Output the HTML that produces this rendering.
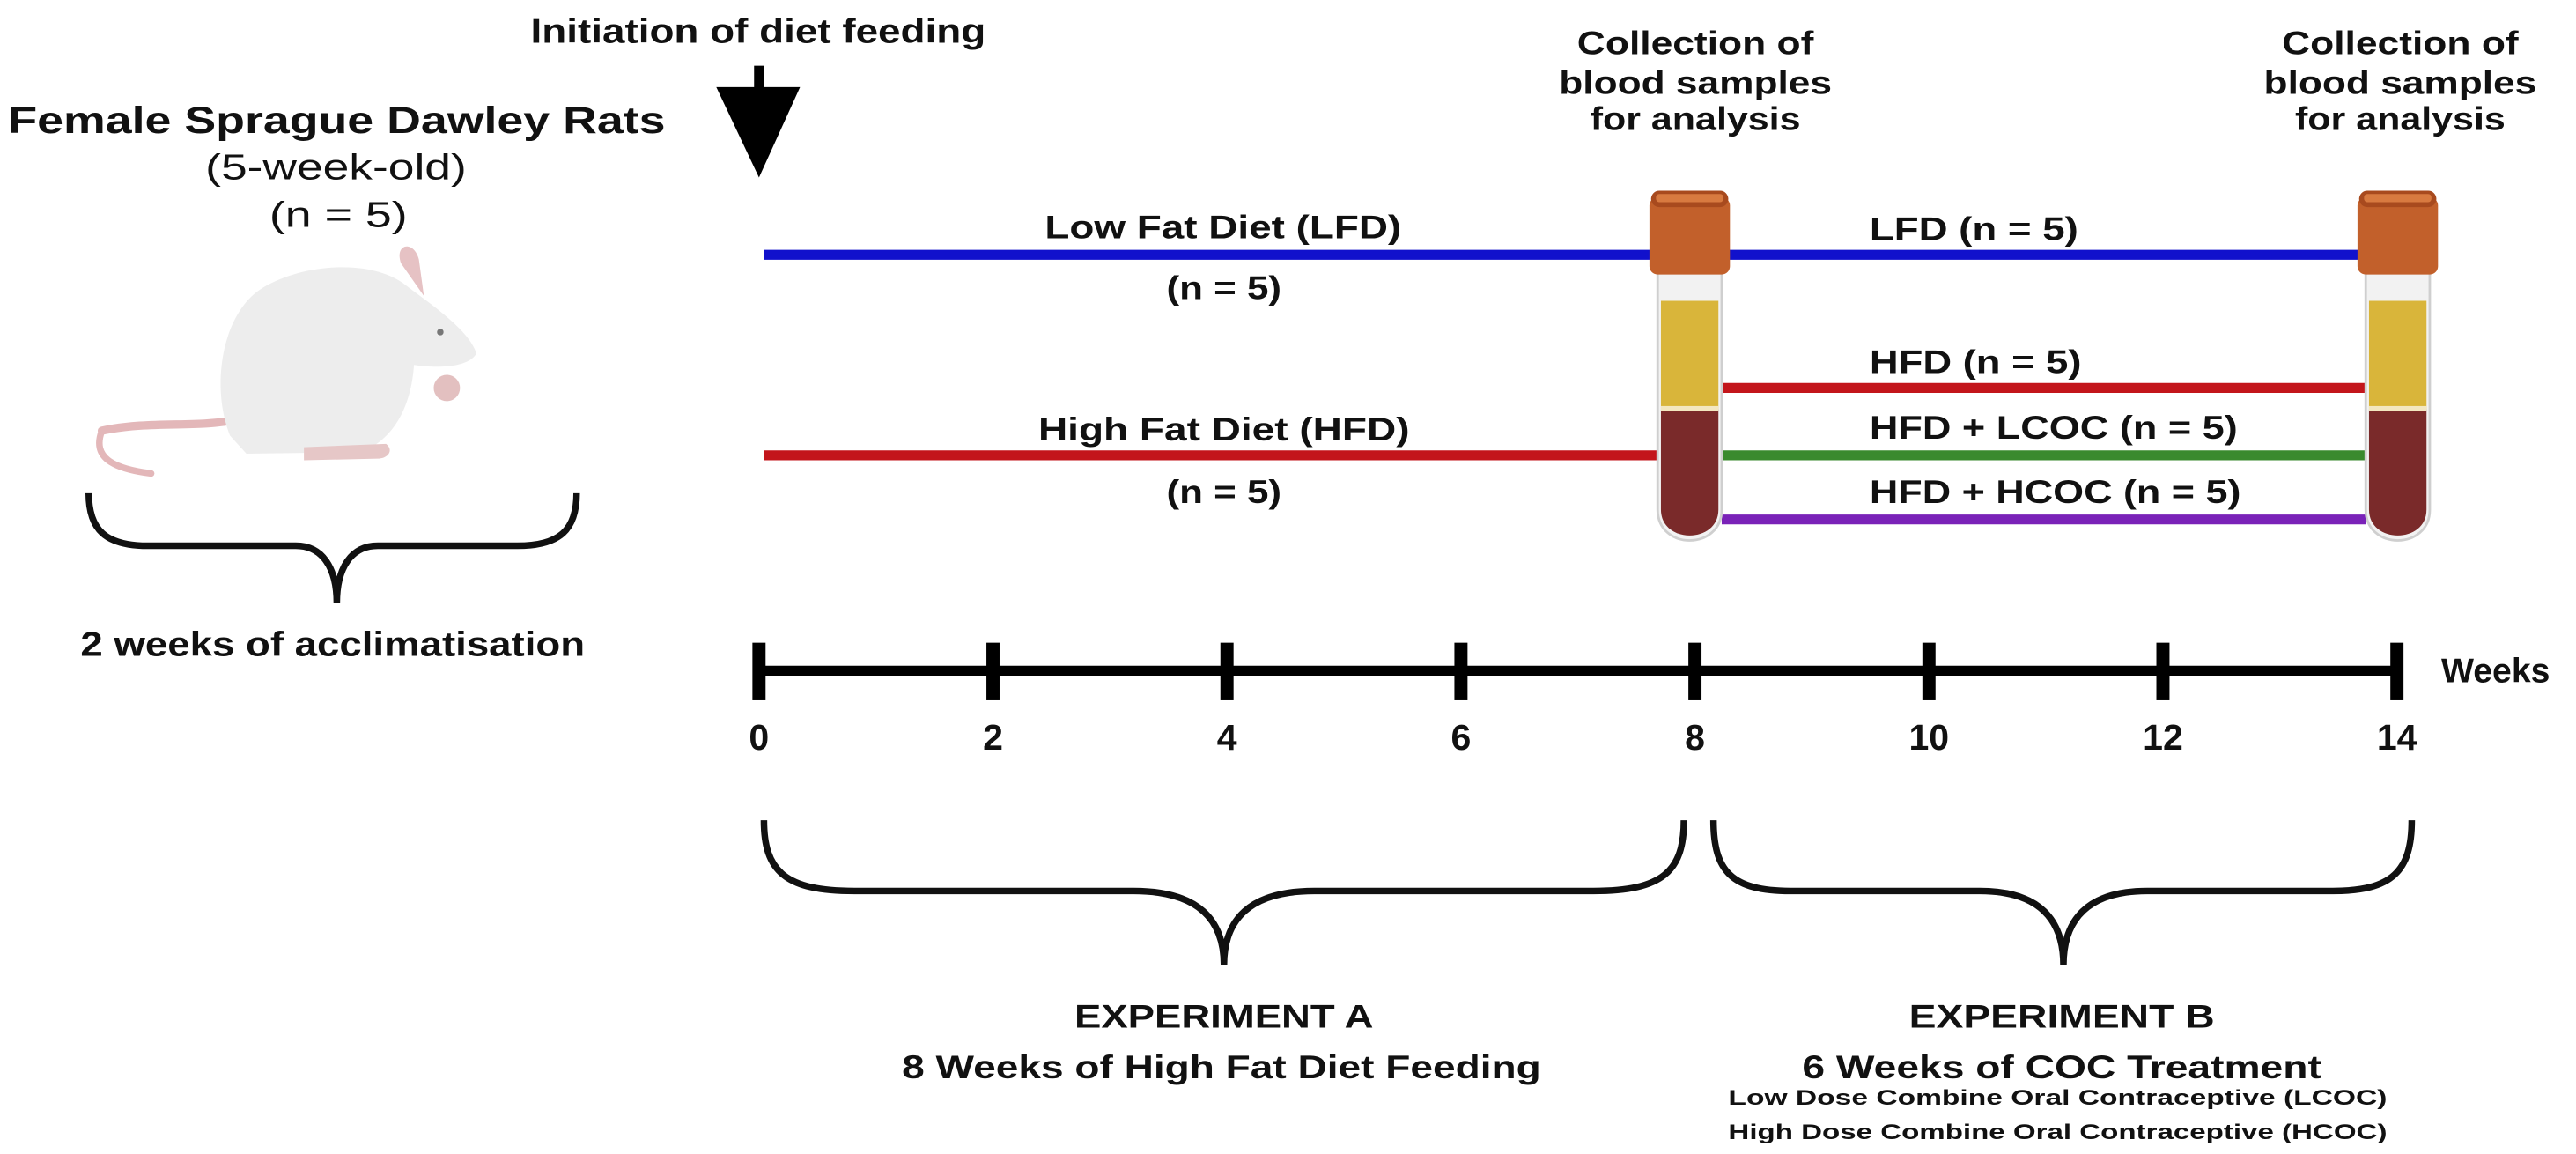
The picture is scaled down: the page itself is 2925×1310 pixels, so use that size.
<!DOCTYPE html>
<html><head><meta charset="utf-8"><style>
html,body{margin:0;padding:0;background:#fff;}
svg{display:block;}
text{font-family:"Liberation Sans",sans-serif;fill:#111;}
.b{font-weight:bold;}
</style></head><body>
<svg id="fig" width="2925" height="1310" viewBox="0 0 1568 702" preserveAspectRatio="none" xmlns="http://www.w3.org/2000/svg">
<rect width="1568" height="702" fill="#fff"/>
<!-- left block -->
<text class="b" x="5" y="81" font-size="23" textLength="400" lengthAdjust="spacingAndGlyphs">Female Sprague Dawley Rats</text>
<text x="125" y="109" font-size="22" textLength="159" lengthAdjust="spacingAndGlyphs">(5-week-old)</text>
<text x="164" y="138" font-size="22" textLength="84" lengthAdjust="spacingAndGlyphs">(n = 5)</text>
<g>
  <path d="M62,262 C56,278 68,285 92,288" stroke="#e3b7b9" stroke-width="4" fill="none" stroke-linecap="round"/>
  <path d="M62,262 C90,256 118,260 140,256" stroke="#e3b7b9" stroke-width="5" fill="none" stroke-linecap="round"/>
  <path d="M140,265 C128,235 135,190 160,175 C185,160 225,158 245,172 C262,185 285,200 290,215 C285,224 265,224 252,222 C250,250 238,268 220,275 L150,276 Z" fill="#ededed"/>
  <path d="M244,160 C240,148 252,146 255,158 L258,180 Z" fill="#e6c2c4"/>
  <circle cx="268" cy="202" r="2" fill="#777"/>
  <ellipse cx="272" cy="236" rx="8" ry="8" fill="#e3c0c0"/>
  <path d="M185,272 L235,270 C240,274 236,279 230,279 L185,280 Z" fill="#e6c7c7"/>
</g>
<path d="M54,300 C54,322 64,332 90,332 L180,332 C196,332 205,345 205,367 C205,345 214,332 230,332 L315,332 C341,332 351,322 351,300" stroke="#111" stroke-width="4" fill="none"/>
<text class="b" x="49" y="399" font-size="21" textLength="307" lengthAdjust="spacingAndGlyphs">2 weeks of acclimatisation</text>

<!-- initiation -->
<text class="b" x="323" y="26" font-size="21" textLength="277" lengthAdjust="spacingAndGlyphs">Initiation of diet feeding</text>
<rect x="459" y="40" width="6" height="20" fill="#000"/>
<polygon points="436,53 487,53 462,108" fill="#000"/>

<!-- collection labels -->
<g font-size="20">
<text class="b" x="960" y="33" textLength="144" lengthAdjust="spacingAndGlyphs">Collection of</text>
<text class="b" x="949" y="57" textLength="166" lengthAdjust="spacingAndGlyphs">blood samples</text>
<text class="b" x="968" y="79" textLength="128" lengthAdjust="spacingAndGlyphs">for analysis</text>
</g>
<g font-size="20">
<text class="b" x="1389" y="33" textLength="144" lengthAdjust="spacingAndGlyphs">Collection of</text>
<text class="b" x="1378" y="57" textLength="166" lengthAdjust="spacingAndGlyphs">blood samples</text>
<text class="b" x="1397" y="79" textLength="128" lengthAdjust="spacingAndGlyphs">for analysis</text>
</g>

<!-- diet lines -->
<line x1="465" y1="155" x2="1010" y2="155" stroke="#1111cc" stroke-width="6"/>
<line x1="465" y1="277" x2="1010" y2="277" stroke="#c3151b" stroke-width="6"/>
<line x1="1048" y1="155" x2="1440" y2="155" stroke="#1111cc" stroke-width="6"/>
<line x1="1048" y1="236" x2="1440" y2="236" stroke="#c3151b" stroke-width="6"/>
<line x1="1048" y1="277" x2="1440" y2="277" stroke="#3a8a2e" stroke-width="6"/>
<line x1="1048" y1="316" x2="1440" y2="316" stroke="#7a22b8" stroke-width="6"/>

<text class="b" x="636" y="145" font-size="20" textLength="217" lengthAdjust="spacingAndGlyphs">Low Fat Diet (LFD)</text>
<text class="b" x="710" y="182" font-size="20" textLength="70" lengthAdjust="spacingAndGlyphs">(n = 5)</text>
<text class="b" x="632" y="268" font-size="20" textLength="226" lengthAdjust="spacingAndGlyphs">High Fat Diet (HFD)</text>
<text class="b" x="710" y="306" font-size="20" textLength="70" lengthAdjust="spacingAndGlyphs">(n = 5)</text>
<text class="b" x="1138" y="146" font-size="20" textLength="127" lengthAdjust="spacingAndGlyphs">LFD (n = 5)</text>
<text class="b" x="1138" y="227" font-size="20" textLength="129" lengthAdjust="spacingAndGlyphs">HFD (n = 5)</text>
<text class="b" x="1138" y="267" font-size="20" textLength="224" lengthAdjust="spacingAndGlyphs">HFD + LCOC (n = 5)</text>
<text class="b" x="1138" y="306" font-size="20" textLength="226" lengthAdjust="spacingAndGlyphs">HFD + HCOC (n = 5)</text>

<!-- tubes -->
<g transform="translate(1004,0)">
  <path d="M5,165 L44,165 L44,310 C44,335 5,335 5,310 Z" fill="#f2f2f2" stroke="#cfcfcf" stroke-width="1.5"/>
  <rect x="7" y="183" width="35" height="66" fill="#d9b53a"/>
  <path d="M7,249 L42,249 L42,310 C42,331 7,331 7,310 Z" fill="#7a2a2a"/>
  <rect x="7" y="247" width="35" height="3" fill="#f3e7c0"/>
  <rect x="0" y="120" width="49" height="47" rx="5" fill="#c2602b"/>
  <rect x="1" y="116" width="47" height="10" rx="5" fill="#a84a1e"/>
  <rect x="4" y="118" width="41" height="5" rx="2" fill="#d87a40"/>
</g>
<g transform="translate(1435,0)">
  <path d="M5,165 L44,165 L44,310 C44,335 5,335 5,310 Z" fill="#f2f2f2" stroke="#cfcfcf" stroke-width="1.5"/>
  <rect x="7" y="183" width="35" height="66" fill="#d9b53a"/>
  <path d="M7,249 L42,249 L42,310 C42,331 7,331 7,310 Z" fill="#7a2a2a"/>
  <rect x="7" y="247" width="35" height="3" fill="#f3e7c0"/>
  <rect x="0" y="120" width="49" height="47" rx="5" fill="#c2602b"/>
  <rect x="1" y="116" width="47" height="10" rx="5" fill="#a84a1e"/>
  <rect x="4" y="118" width="41" height="5" rx="2" fill="#d87a40"/>
</g>

<!-- timeline -->
<g id="timeline"></g>
<text class="b" x="1486" y="415" font-size="21">Weeks</text>

<!-- experiment braces -->
<path d="M465,499 C465,530 478,542 520,542 L690,542 C730,542 745,560 745,587 C745,560 760,542 800,542 L970,542 C1012,542 1025,530 1025,499" stroke="#111" stroke-width="4" fill="none"/>
<path d="M1043,499 C1043,530 1054,542 1090,542 L1205,542 C1242,542 1256,560 1256,587 C1256,560 1270,542 1307,542 L1420,542 C1456,542 1468,530 1468,499" stroke="#111" stroke-width="4" fill="none"/>

<text x="654" y="625" font-size="20" textLength="182" lengthAdjust="spacingAndGlyphs" style="font-weight:bold">EXPERIMENT A</text>
<text class="b" x="549" y="656" font-size="20" textLength="389" lengthAdjust="spacingAndGlyphs">8 Weeks of High Fat Diet Feeding</text>
<text x="1162" y="625" font-size="20" textLength="186" lengthAdjust="spacingAndGlyphs" style="font-weight:bold">EXPERIMENT B</text>
<text class="b" x="1097" y="656" font-size="20" textLength="316" lengthAdjust="spacingAndGlyphs">6 Weeks of COC Treatment</text>
<text class="b" x="1052" y="672" font-size="13" textLength="401" lengthAdjust="spacingAndGlyphs">Low Dose Combine Oral Contraceptive (LCOC)</text>
<text class="b" x="1052" y="693" font-size="13" textLength="401" lengthAdjust="spacingAndGlyphs">High Dose Combine Oral Contraceptive (HCOC)</text>
</svg>
<script>
const weekTicks = [0, 2, 4, 6, 8, 10, 12, 14];
const weekLabels = ["0", "2", "4", "6", "8", "10", "12", "14"];
const weekDomain = [0, 14];
const NS = "http://www.w3.org/2000/svg";
const g = document.getElementById('timeline');
function xWeek(w){ return 462 + (w - weekDomain[0]) / (weekDomain[1] - weekDomain[0]) * (1459 - 462); }
const axis = document.createElementNS(NS, 'line');


axis.setAttribute('x1', xWeek(weekDomain[0])); axis.setAttribute('x2', xWeek(weekDomain[1]));
axis.setAttribute('y1', 408); axis.setAttribute('y2', 408);
axis.setAttribute('stroke', '#000'); axis.setAttribute('stroke-width', 6);
g.appendChild(axis);
weekTicks.forEach((w, i) => {
  const t = document.createElementNS(NS, 'rect');
  
  
  t.setAttribute('x', xWeek(w) - 4); t.setAttribute('y', 391);
  t.setAttribute('width', 8); t.setAttribute('height', 35); t.setAttribute('fill', '#000');
  g.appendChild(t);
  const lb = document.createElementNS(NS, 'text');
  
  
  lb.setAttribute('x', xWeek(w)); lb.setAttribute('y', 456);
  lb.setAttribute('text-anchor', 'middle'); lb.setAttribute('font-size', '22');
  lb.setAttribute('font-weight', 'bold');
  lb.textContent = weekLabels[i];
  g.appendChild(lb);
});
</script>
</body></html>
